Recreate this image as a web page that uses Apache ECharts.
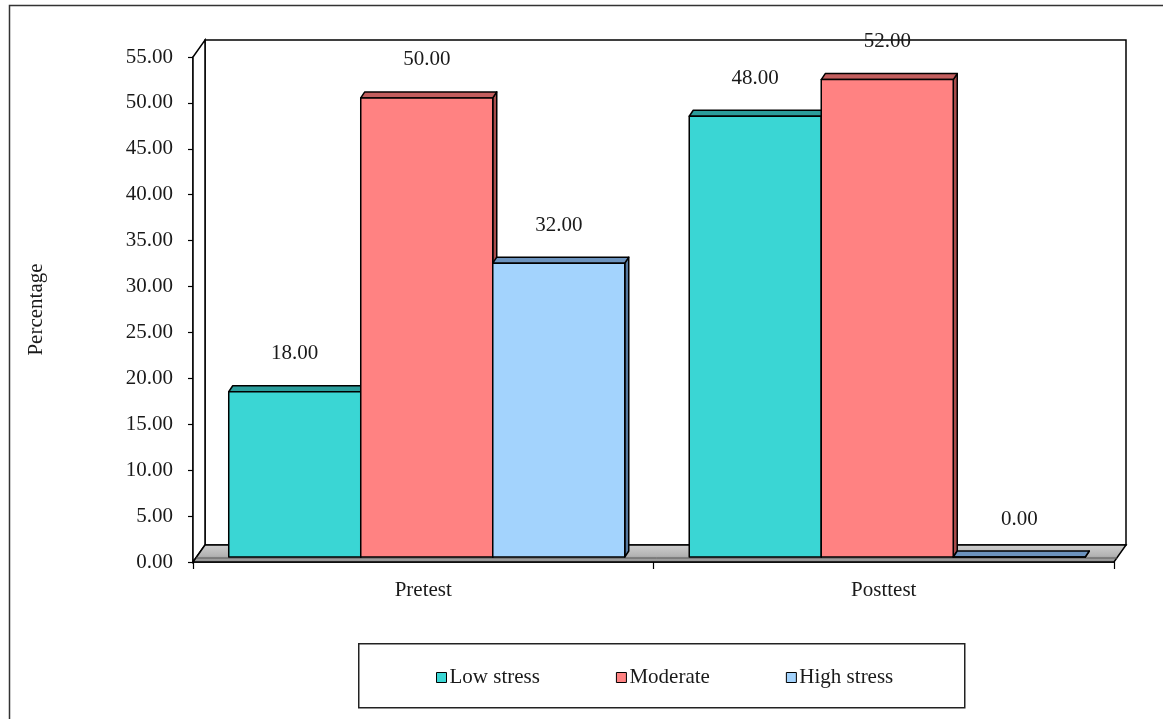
<!DOCTYPE html>
<html>
<head>
<meta charset="utf-8">
<script src="https://cdn.jsdelivr.net/npm/echarts@6/dist/echarts.min.js"></script>
<style>
html,body{margin:0;padding:0;background:#fff;}
#chart{width:1163px;height:719px;}
</style>
</head>
<body>
<div id="chart"></div>
<script>
// ---- data ----
const categories = ['Pretest', 'Posttest'];
const seriesNames = ['Low stress', 'Moderate', 'High stress'];
const lowStress = [18.00, 48.00];
const moderate = [50.00, 52.00];
const highStress = [32.00, 0.00];
const yMin = 0, yMax = 55, yStep = 5;

// ---- styles ----
const FONT = 'Liberation Serif';
const TXT = '#1a1a1a';
const faceColors = [
  {front:'#3AD6D4', top:'#2B9D9B', side:'#23807E'},
  {front:'#FF8282', top:'#C25E5E', side:'#A84C4C'},
  {front:'#A3D3FD', top:'#6C93BE', side:'#56789E'}
];
const DX = 12, DY = -17;      // wall depth
const BX = 3.5, BY = -5;      // bar front offset
const BDX = 4, BDY = -6;      // bar depth
const GAP = 0.14;

function renderWalls(params, api) {
  const cs = params.coordSys;
  const x = cs.x, y = cs.y, w = cs.width, h = cs.height, b = y + h;
  return {
    type: 'group',
    children: [
      {type:'rect', shape:{x:x+DX, y:y+DY, width:w, height:h},
       style:{fill:'#fff', stroke:'#000', lineWidth:1.5}},
      {type:'polygon', shape:{points:[[x,y],[x+DX,y+DY],[x+DX,b+DY],[x,b]]},
       style:{fill:'#fff', stroke:'#000', lineWidth:1.5}},
      {type:'polygon', shape:{points:[[x,b],[x+w,b],[x+w+DX,b+DY],[x+DX,b+DY]]},
       style:{fill:{type:'linear',x:0,y:0,x2:0,y2:1,colorStops:[
         {offset:0,color:'#d0d0d0'},{offset:0.6,color:'#b4b4b4'},{offset:1,color:'#8a8a8a'}]},
         stroke:'#000', lineWidth:1.5}},
      {type:'line', shape:{x1:x+3, y1:b-4, x2:x+w+3, y2:b-4},
       style:{stroke:'#555', lineWidth:1}}
    ]
  };
}

function makeBarRenderer(s) {
  return function (params, api) {
    const cat = api.value(0), v = api.value(1);
    const base = api.coord([cat, 0]);
    const top = api.coord([cat, v]);
    const catW = api.size([1, 0])[0];
    const w = catW * (1 - GAP) / 3;
    const x0 = base[0] - 1.5 * w + s * w + BX;
    const y0 = base[1] + BY;
    const y1 = top[1] + BY;
    const c = faceColors[s];
    const stroke = {stroke:'#000', lineWidth:1.5, lineJoin:'round'};
    return {
      type: 'group',
      children: [
        {type:'polygon', shape:{points:[[x0+w,y1],[x0+w+BDX,y1+BDY],[x0+w+BDX,y0+BDY],[x0+w,y0]]},
         style:Object.assign({fill:c.side}, stroke)},
        {type:'polygon', shape:{points:[[x0,y1],[x0+BDX,y1+BDY],[x0+w+BDX,y1+BDY],[x0+w,y1]]},
         style:Object.assign({fill:c.top}, stroke)},
        {type:'rect', shape:{x:x0, y:y1, width:w, height:Math.max(0, y0-y1)},
         style:Object.assign({fill:c.front}, stroke)},
        {type:'text', style:{text:v.toFixed(2), x:x0+w/2, y:y1-38, align:'center', verticalAlign:'middle',
          font:'21px "' + FONT + '"', fill:TXT}}
      ]
    };
  };
}

const valueLists = [lowStress, moderate, highStress];
const barSeries = seriesNames.map((name, s) => ({
  type: 'custom',
  name: name,
  coordinateSystem: 'cartesian2d',
  renderItem: makeBarRenderer(s),
  itemStyle: {color: faceColors[s].front, borderColor:'#000', borderWidth:1},
  encode: {x: 0, y: 1},
  data: categories.map((c, i) => [i, valueLists[s][i]]),
  z: 3
}));

const chart = echarts.init(document.getElementById('chart'), null, {renderer:'canvas'});
chart.setOption({
  animation: false,
  backgroundColor: '#fff',
  textStyle: {fontFamily: FONT},
  grid: {left:193, top:57, width:921, height:505, containLabel:false},
  xAxis: {
    type: 'category',
    data: categories,
    boundaryGap: true,
    axisLine: {show:true, lineStyle:{color:'#000', width:1.5}},
    axisTick: {show:true, length:7, lineStyle:{color:'#000', width:1.2}},
    axisLabel: {fontSize:21, fontFamily:FONT, color:TXT, margin:18},
    splitLine: {show:false}
  },
  yAxis: {
    type: 'value',
    min: yMin, max: yMax, interval: yStep,
    name: 'Percentage',
    nameLocation: 'middle',
    nameRotate: 90,
    nameGap: 146,
    nameTextStyle: {fontSize:21, fontFamily:FONT, color:TXT},
    axisLine: {show:true, lineStyle:{color:'#000', width:1.5}},
    axisTick: {show:true, length:5, lineStyle:{color:'#000', width:1.2}},
    axisLabel: {fontSize:21, fontFamily:FONT, color:TXT, margin:20,
      formatter: v => v.toFixed(2)},
    splitLine: {show:false}
  },
  legend: {
    data: seriesNames,
    left: 431, top: 662,
    orient: 'horizontal',
    icon: 'rect',
    itemWidth: 10, itemHeight: 10,
    itemGap: 76,
    itemStyle: {borderColor:'#000', borderWidth:1},
    textStyle: {fontSize:21, fontFamily:FONT, color:TXT, padding:[0,0,0,-2]},
    selectedMode: false
  },
  graphic: [
    {type:'rect', left:7, top:3, shape:{x:0, y:0, width:1170, height:730},
     style:{fill:'none', stroke:'#333', lineWidth:1.5}, silent:true, z:-10},
    {type:'rect', left:358, top:643, shape:{x:0, y:0, width:606, height:64},
     style:{fill:'#fff', stroke:'#222', lineWidth:1.5}, silent:true, z:-5}
  ],
  series: [
    {type:'custom', name:'walls', coordinateSystem:'cartesian2d', renderItem: renderWalls,
     data:[[0, 0]], encode:{x:0, y:1}, z:1, silent:true}
  ].concat(barSeries)
});
</script>
</body>
</html>
